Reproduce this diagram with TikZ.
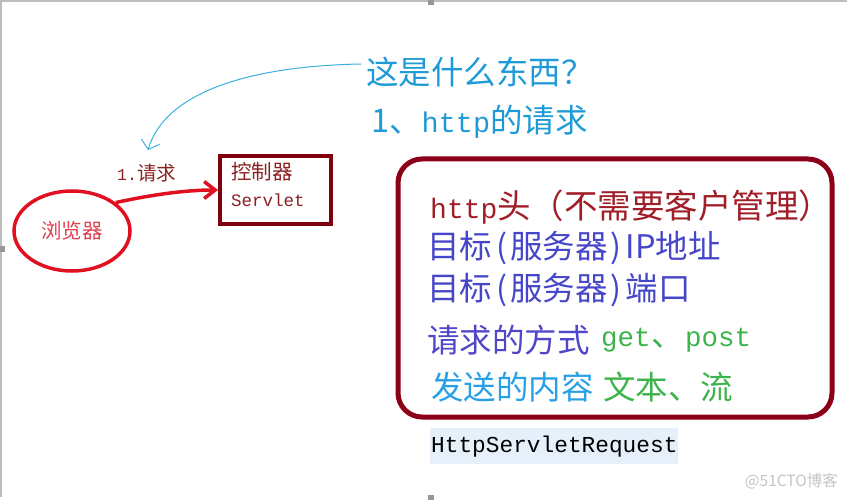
\documentclass[tikz,border=0pt]{standalone}
\usepackage{fontspec}
\newfontfamily\cjkf{Noto Sans CJK SC}
\newfontfamily\monof{Liberation Mono}
\usetikzlibrary{arrows.meta,shapes.geometric}
\definecolor{titleblue}{HTML}{1E9BD7}
\definecolor{arrowblue}{HTML}{3AAEE0}
\definecolor{brightred}{HTML}{E01020}
\definecolor{pinkred}{HTML}{E04050}
\definecolor{boxred}{HTML}{800010}
\definecolor{boxtext}{HTML}{8B2020}
\definecolor{frame}{HTML}{8B0018}
\definecolor{lineone}{HTML}{A01E28}
\definecolor{indigo}{HTML}{4646C8}
\definecolor{purpleblue}{HTML}{5046C8}
\definecolor{greentxt}{HTML}{3CB44B}
\definecolor{cyantxt}{HTML}{28A0E6}
\definecolor{hlbg}{HTML}{E6F0FA}
\definecolor{wmgrey}{HTML}{C4C4C4}
\definecolor{edgegrey}{HTML}{BDBDBD}
\newcommand{\lp}{\hspace{4pt}(\hspace{3pt}}
\newcommand{\rp}{\hspace{3pt})\hspace{4pt}}
\tikzset{
  txt/.style={inner sep=0pt, anchor=west},
  redline/.style={draw=brightred, line width=3.5pt},
  bigcjk/.style={font=\cjkf\fontsize{32.5}{32.5}\selectfont},
}
\begin{document}
\begin{tikzpicture}[x=1pt,y=-1pt]
\useasboundingbox (0,0) rectangle (847,500);
% window frame
\draw[edgegrey, line width=1.5pt] (0,1) -- (847,1);
\draw[edgegrey, line width=1.5pt] (1,0) -- (1,497);
\fill[edgegrey!80!black] (428,0) rectangle (434,5);
\fill[edgegrey!80!black] (0,246) rectangle (5,252);
\fill[edgegrey!80!black] (428,495) rectangle (434,500);

% browser ellipse
\node[ellipse, redline, minimum width=116pt, minimum height=80pt, inner sep=0pt,
      text=pinkred, font=\cjkf\fontsize{20.5}{20.5}\selectfont] (browser) at (72,231) {浏览器};

% servlet box
\node[draw=boxred, line width=4pt, minimum width=111pt, minimum height=68pt, anchor=north west] (servlet) at (218,154) {};
\node[txt, text=boxtext, font=\cjkf\fontsize{20.5}{20.5}\selectfont] (ctrl) at (231,172) {控制器};
\node[txt, text=boxtext, font=\monof\fontsize{17.5}{17.5}\selectfont] (svl) at (231,200) {Servlet};

% request arrow
\draw[redline, -{Straight Barb[length=11pt,width=17pt]}] (browser.33) .. controls (150,195) and (185,190) .. (servlet.west);
\node[txt, text=boxtext] (req) at (117,173) {\monof\fontsize{16.5}{16.5}\selectfont 1.\cjkf\fontsize{19.5}{19.5}\selectfont 请求};

% question labels
\node[txt, text=titleblue, font=\cjkf\fontsize{32.5}{32.5}\selectfont] (what) at (366,72) {这是什么东西？};
\node[txt, text=titleblue] (httpreq) at (371,122) {\cjkf\fontsize{32.5}{32.5}\selectfont 1、\monof\fontsize{28.5}{28.5}\selectfont http\cjkf\fontsize{32.5}{32.5}\selectfont 的请求};
\coordinate (tip) at (148,150);
\draw[arrowblue, line width=1pt, -{Straight Barb[length=8pt,width=19pt]}] (what.west) ++(-5,-8) .. controls (250,66) and (165,92) .. (tip);

% big rounded box
\draw[frame, line width=5pt, rounded corners=24pt] (398,159) rectangle (832,417);
\node[txt, text=lineone] (l1) at (430,207) {\monof\fontsize{28}{28}\selectfont http\cjkf\fontsize{33.5}{33.5}\selectfont 头（不需要客户管理）};
\node[txt, text=indigo, bigcjk] (l2) at (427,248) {目标\lp 服务器\rp IP地址};
\node[txt, text=indigo, bigcjk] (l3) at (427,290) {目标\lp 服务器\rp 端口};
\node[txt, text=purpleblue, bigcjk] (l4a) at (427,340) {请求的方式};
\node[txt, text=greentxt] (l4b) at (601,340) {\monof\fontsize{27.5}{27.5}\selectfont get\hspace{1pt}\cjkf\fontsize{32.5}{32.5}\selectfont 、\hspace{1pt}\monof\fontsize{27.5}{27.5}\selectfont post};
\node[txt, text=cyantxt, bigcjk] (l5a) at (431,387) {发送的内容};
\node[txt, text=greentxt, bigcjk] (l5b) at (603,387) {文本、流};

% HttpServletRequest
\fill[hlbg] (430,428) rectangle (678,464);
\node[txt, font=\monof\fontsize{22.8}{22.8}\selectfont] (hsr) at (431,447) {HttpServletRequest};

% watermark
\node[anchor=east, inner sep=0pt, text=wmgrey, font=\cjkf\fontsize{15.5}{15.5}\selectfont] (wm) at (838,481) {@51CTO博客};
\end{tikzpicture}
\end{document}
